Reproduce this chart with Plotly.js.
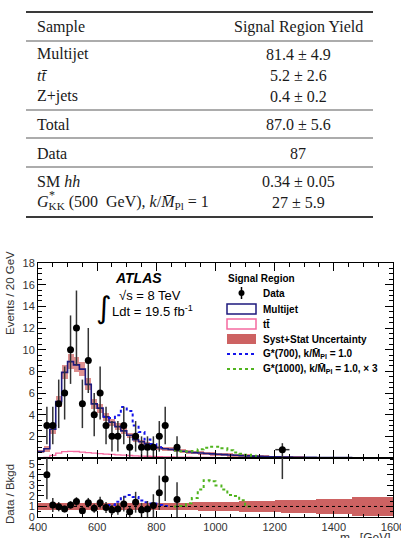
<!DOCTYPE html>
<html>
<head>
<meta charset="utf-8">
<script src="https://cdn.plot.ly/plotly-3.0.1.min.js"></script>
<style>
  html, body { margin: 0; padding: 0; background: #fff; }
  #chart { width: 401px; height: 538px; }
</style>
</head>
<body>
<div id="chart"></div>
<script>
// ---- yields table ----
const tableHeader = ['Sample', 'Signal Region Yield'];
const tableLabels = [
  'Multijet',
  '<i>tt\u0304</i>',
  'Z+jets',
  'Total',
  'Data',
  'SM <i>hh</i>',
  '<i>G</i><sub>KK</sub> (500  GeV), <i>k</i>/<i>M\u0304</i><sub>Pl</sub> = 1'
];
const tableYields = ['81.4 ± 4.9', '5.2 ± 2.6', '0.4 ± 0.2', '87.0 ± 5.6', '87', '0.34 ± 0.05', '27 ± 5.9'];

// ---- histogram binning (20 GeV bins from 400 GeV) ----
const binLow = 400;
const binWidth = 20;

// background (multijet + ttbar) per 20 GeV bin, 400..1600
const multijet = [
  0.6, 0.85, 2.65, 5.2, 7.9, 8.9, 8.6, 8.2, 6.8, 5.0,
  4.6, 3.8, 3.3, 2.9, 2.5, 2.1, 1.7, 1.5, 1.3, 1.05,
  0.95, 0.85, 0.8, 0.7, 0.62, 0.56, 0.5, 0.46, 0.42, 0.38,
  0.34, 0.31, 0.28, 0.25, 0.22, 0.2, 0.17, 0.15, 0.13, 0.11,
  0.1, 0.09, 0.08, 0.07, 0.07, 0.06, 0.06, 0.05, 0.05, 0.05,
  0.04, 0.04, 0.04, 0.03, 0.03, 0.03, 0.03, 0.02, 0.02, 0.02
];
// syst+stat uncertainty on the background, per bin
const multijetErr = [
  0.15, 0.3, 0.4, 0.5, 0.65, 0.7, 0.7, 0.65, 0.55, 0.45,
  0.42, 0.38, 0.33, 0.3, 0.27, 0.25, 0.22, 0.2, 0.18, 0.17,
  0.17, 0.17, 0.17, 0.17, 0.17, 0.17, 0.17, 0.17, 0.17, 0.17,
  0.16, 0.16, 0.15, 0.15, 0.14, 0.14, 0.13, 0.12, 0.11, 0.1,
  0.09, 0.08, 0.08, 0.07, 0.07, 0.06, 0.06, 0.05, 0.05, 0.05,
  0.04, 0.04, 0.04, 0.03, 0.03, 0.03, 0.03, 0.02, 0.02, 0.02
];
const ttbar = [
  0.0, 0.05, 0.25, 0.45, 0.58, 0.62, 0.6, 0.55, 0.5, 0.45,
  0.4, 0.36, 0.33, 0.29, 0.26, 0.23, 0.2, 0.18, 0.16, 0.14,
  0.13, 0.11, 0.1, 0.09, 0.08, 0.07, 0.06, 0.06, 0.05, 0.05,
  0.04, 0.04, 0.04, 0.04, 0.03, 0.03, 0.03, 0.03, 0.03, 0.03,
  0.02, 0.02, 0.02, 0.02, 0.02, 0.02, 0.02, 0.02, 0.02, 0.02,
  0.02, 0.02, 0.02, 0.02, 0.02, 0.02, 0.02, 0.02, 0.02, 0.02
];
// relative uncertainty band in the ratio panel, per bin
const ratioBandErr = [
  0.3, 0.3, 0.3, 0.3, 0.3, 0.3, 0.3, 0.3, 0.3, 0.3,
  0.3, 0.3, 0.3, 0.3, 0.3, 0.3, 0.3, 0.3, 0.3, 0.3,
  0.32, 0.33, 0.34, 0.35, 0.36, 0.37, 0.38, 0.4, 0.41, 0.42,
  0.43, 0.44, 0.46, 0.47, 0.49, 0.5, 0.52, 0.53, 0.55, 0.56,
  0.57, 0.59, 0.6, 0.61, 0.63, 0.64, 0.65, 0.67, 0.68, 0.69,
  0.7, 0.71, 0.72, 0.93, 0.93, 0.93, 0.93, 0.93, 0.93, 0.93
];

// ---- observed data ----
const dataMass   = [430, 450, 470, 490, 510, 530, 550, 570, 590, 610, 630, 650, 670, 690, 710, 730, 750, 770, 790, 810, 830, 870, 1226];
const dataEvents = [3, 3, 5, 6, 10, 12, 5, 9, 4, 6, 3, 2, 2, 3, 1, 2, 1, 1, 1, 2, 3, 1, 0.77];
const dataErrUp  = [1.73, 1.73, 2.24, 2.45, 3.16, 3.46, 2.24, 3.0, 2.0, 2.45, 1.73, 1.41, 1.41, 1.73, 1, 1.41, 1, 1, 1, 1.41, 1.73, 1, 0.6];
const dataErrDn  = [1.73, 1.73, 2.24, 2.45, 3.16, 3.46, 2.24, 3.0, 2.0, 2.45, 1.73, 1.41, 1.41, 1.73, 1, 1.41, 1, 1, 1, 1.41, 1.73, 1, 0.77];
const dataMassErr = [10, 10, 10, 10, 10, 10, 10, 10, 10, 10, 10, 10, 10, 10, 10, 10, 10, 10, 10, 10, 10, 10, 24];
const ratioValues = [4.0, 1.14, 0.98, 0.76, 1.14, 1.46, 0.6, 1.36, 0.83, 1.36, 0.9, 0.67, 0.76, 1.24, 0.5, 1.4, 0.67, 0.76, 1.08, 2.3, 3.6, 1.65, 9.0];
const ratioErr    = [2.31, 0.66, 0.44, 0.31, 0.36, 0.42, 0.27, 0.45, 0.42, 0.56, 0.52, 0.47, 0.54, 0.72, 0.5, 0.99, 0.67, 0.76, 1.08, 1.63, 2.08, 1.65, 5.4];

// ---- signal hypotheses (stacked on the background) ----
const g700Start = 620;
const g700 = [3.8, 3.7, 3.95, 4.7, 4.35, 3.0, 2.4, 1.7, 1.3, 1.0];
const g700Ratio = [1.0, 1.15, 1.45, 1.93, 2.08, 1.9, 1.57, 1.4, 1.27, 1.15, 1.05];
const g1000Start = 860;
const g1000 = [0.7, 0.62, 0.6, 0.65, 0.8, 0.95, 1.05, 1.05, 0.9, 0.72, 0.5, 0.4, 0.3, 0.2];
const g1000Ratio = [1.0, 1.05, 1.3, 1.8, 2.6, 3.5, 3.4, 3.0, 2.6, 2.1, 2.0, 1.6, 1.0];

// ---- helpers ----
const SANS = 'Liberation Sans, Arial, Helvetica, sans-serif';
const SERIF = 'Liberation Serif, Times New Roman, serif';
const PL = 38, PR = 393, PT = 263, PB = 517;          // plot area in page pixels
const fx = px => (px - PL) / (PR - PL);
const fy = py => (PB - py) / (PB - PT);

function steps(start, vals) {
  const x = [], y = [];
  vals.forEach((v, i) => { x.push(start + i * binWidth); y.push(v); });
  x.push(start + vals.length * binWidth);
  y.push(vals[vals.length - 1]);
  return { x, y };
}
const centres = multijet.map((_, i) => binLow + (i + 0.5) * binWidth);

const mjStep = steps(binLow, multijet);
const ttStep = steps(binLow, ttbar);
const s700 = steps(g700Start, g700);
const s700r = steps(g700Start, g700Ratio);
const s1000 = steps(g1000Start, g1000);
const s1000r = steps(g1000Start, g1000Ratio);

const traces = [
  // uncertainty band, main panel
  {
    type: 'bar', xaxis: 'x', yaxis: 'y',
    x: centres, y: multijetErr.map(e => 2 * e),
    base: multijet.map((v, i) => v - multijetErr[i]),
    width: binWidth,
    marker: { color: 'rgba(200,70,70,0.6)', line: { width: 0 } },
    hoverinfo: 'skip'
  },
  // uncertainty band, ratio panel
  {
    type: 'bar', xaxis: 'x2', yaxis: 'y2',
    x: centres, y: ratioBandErr.map(e => 2 * e),
    base: ratioBandErr.map(e => 1 - e),
    width: binWidth,
    marker: { color: 'rgb(205,98,98)', line: { width: 0 } },
    hoverinfo: 'skip'
  },
  // ttbar
  {
    type: 'scatter', mode: 'lines', xaxis: 'x', yaxis: 'y',
    x: ttStep.x, y: ttStep.y,
    line: { shape: 'hv', color: 'rgb(245,105,160)', width: 1.3 }
  },
  // multijet
  {
    type: 'scatter', mode: 'lines', xaxis: 'x', yaxis: 'y',
    x: mjStep.x, y: mjStep.y,
    line: { shape: 'hv', color: 'rgb(30,25,125)', width: 1.6 }
  },
  // G*(700)
  {
    type: 'scatter', mode: 'lines', xaxis: 'x', yaxis: 'y',
    x: s700.x, y: s700.y,
    line: { shape: 'hv', color: 'rgb(20,20,235)', width: 2, dash: 'dot' }
  },
  {
    type: 'scatter', mode: 'lines', xaxis: 'x2', yaxis: 'y2',
    x: s700r.x, y: s700r.y,
    line: { shape: 'hv', color: 'rgb(20,20,235)', width: 2, dash: 'dot' }
  },
  // G*(1000) x3
  {
    type: 'scatter', mode: 'lines', xaxis: 'x', yaxis: 'y',
    x: s1000.x, y: s1000.y,
    line: { shape: 'hv', color: 'rgb(80,180,30)', width: 2, dash: 'dot' }
  },
  {
    type: 'scatter', mode: 'lines', xaxis: 'x2', yaxis: 'y2',
    x: s1000r.x, y: s1000r.y,
    line: { shape: 'hv', color: 'rgb(80,180,30)', width: 2, dash: 'dot' }
  },
  // data
  {
    type: 'scatter', mode: 'markers', xaxis: 'x', yaxis: 'y',
    x: dataMass, y: dataEvents,
    marker: { color: '#000', size: 7 },
    error_y: { type: 'data', symmetric: false, array: dataErrUp, arrayminus: dataErrDn, color: '#333', thickness: 1.5, width: 0 },
    error_x: { type: 'data', array: dataMassErr, color: '#333', thickness: 1.5, width: 0 }
  },
  {
    type: 'scatter', mode: 'markers', xaxis: 'x2', yaxis: 'y2',
    x: dataMass, y: ratioValues,
    marker: { color: '#000', size: 7 },
    error_y: { type: 'data', array: ratioErr, color: '#333', thickness: 1.5, width: 0 },
    error_x: { type: 'data', array: dataMassErr, color: '#333', thickness: 1.5, width: 0 }
  }
];

const tickFont = { family: SANS, size: 11, color: '#333' };
const axisCommon = {
  showline: true, linecolor: '#000', linewidth: 1, mirror: 'ticks',
  ticks: 'inside', tickcolor: '#000', showgrid: false, zeroline: false,
  tickfont: tickFont
};

const annotations = [];
const shapes = [];

// table
const tableLineY = [12, 41, 110, 138, 167, 217];
tableLineY.forEach((y, i) => {
  const thick = (i === 0 || i === tableLineY.length - 1);
  shapes.push({
    type: 'line', xref: 'paper', yref: 'paper',
    x0: fx(26), x1: fx(373), y0: fy(y), y1: fy(y),
    line: { color: thick ? '#3a3a3a' : '#5a5a5a', width: thick ? 2 : 1.2 }
  });
});
const tFont = { family: SERIF, size: 16, color: '#1a1a1a' };
annotations.push({ xref: 'paper', yref: 'paper', x: fx(35), y: fy(26.5), xanchor: 'left', yanchor: 'middle', text: tableHeader[0], showarrow: false, font: tFont });
annotations.push({ xref: 'paper', yref: 'paper', x: fx(298), y: fy(26.5), xanchor: 'center', yanchor: 'middle', text: tableHeader[1], showarrow: false, font: tFont });
const rowY = [54.5, 75, 96, 124, 153, 182, 202];
tableLabels.forEach((lab, i) => {
  annotations.push({ xref: 'paper', yref: 'paper', x: fx(35), y: fy(rowY[i]), xanchor: 'left', yanchor: 'middle', text: lab, showarrow: false, font: tFont });
  annotations.push({ xref: 'paper', yref: 'paper', x: fx(298), y: fy(rowY[i]), xanchor: 'center', yanchor: 'middle', text: tableYields[i], showarrow: false, font: tFont });
});
// superscript star stacked above the KK subscript
annotations.push({ xref: 'paper', yref: 'paper', x: fx(47), y: fy(195), xanchor: 'left', yanchor: 'middle', text: '*', showarrow: false, font: { family: SERIF, size: 12, color: '#1a1a1a' } });

// axis titles
annotations.push({ xref: 'paper', yref: 'paper', x: fx(10), y: fy(293), textangle: -90, xanchor: 'center', yanchor: 'middle',
  text: 'Events / 20 GeV', showarrow: false, font: { family: SANS, size: 11.5, color: '#333' } });
annotations.push({ xref: 'paper', yref: 'paper', x: fx(10), y: fy(494), textangle: -90, xanchor: 'center', yanchor: 'middle',
  text: 'Data / Bkgd', showarrow: false, font: { family: SANS, size: 11.5, color: '#333' } });
annotations.push({ xref: 'paper', yref: 'paper', x: 1, y: fy(529), xanchor: 'right', yanchor: 'top',
  text: 'm<sub>4j</sub> [GeV]', showarrow: false, font: { family: SANS, size: 12, color: '#333' } });

// experiment label
annotations.push({ xref: 'paper', yref: 'paper', x: fx(138), y: fy(278), xanchor: 'center', yanchor: 'middle',
  text: '<b><i>ATLAS</i></b>', showarrow: false, font: { family: SANS, size: 14, color: '#000' } });
annotations.push({ xref: 'paper', yref: 'paper', x: fx(117), y: fy(295), xanchor: 'left', yanchor: 'middle',
  text: '√s = 8 TeV', showarrow: false, font: { family: SANS, size: 13, color: '#000' } });
annotations.push({ xref: 'paper', yref: 'paper', x: fx(110), y: fy(311), xanchor: 'left', yanchor: 'middle',
  text: 'Ldt = 19.5 fb<sup>-1</sup>', showarrow: false, font: { family: SANS, size: 13, color: '#000' } });
annotations.push({ xref: 'paper', yref: 'paper', x: fx(104), y: fy(307), xanchor: 'center', yanchor: 'middle',
  text: '∫', showarrow: false, font: { family: 'DejaVu Sans, sans-serif', size: 30, color: '#000' } });

// legend
const legFont = { family: SANS, size: 10, color: '#000' };
annotations.push({ xref: 'paper', yref: 'paper', x: fx(226), y: fy(278), xanchor: 'left', yanchor: 'middle',
  text: '<b>Signal Region</b>', showarrow: false, font: legFont });
const legText = [
  'Data', 'Multijet', 'tt\u0304', 'Syst+Stat Uncertainty',
  'G*(700), k/M\u0304<sub>Pl</sub> = 1.0', 'G*(1000), k/M\u0304<sub>Pl</sub> = 1.0, × 3'
];
const legY = [293, 309, 324, 339, 354, 369];
legText.forEach((t, i) => {
  annotations.push({ xref: 'paper', yref: 'paper', x: fx(261), y: fy(legY[i]), xanchor: 'left', yanchor: 'middle',
    text: '<b>' + t + '</b>', showarrow: false, font: legFont });
});
const sx0 = fx(227), sx1 = fx(256), sxc = fx(241.5);
// data symbol
shapes.push({ type: 'line', xref: 'paper', yref: 'paper', x0: sxc, x1: sxc, y0: fy(287), y1: fy(299), line: { color: '#000', width: 1.5 } });
shapes.push({ type: 'circle', xref: 'paper', yref: 'paper', x0: fx(238.5), x1: fx(244.5), y0: fy(290), y1: fy(296), fillcolor: '#000', line: { color: '#000', width: 0 } });
// boxes
shapes.push({ type: 'rect', xref: 'paper', yref: 'paper', x0: sx0, x1: sx1, y0: fy(304), y1: fy(314), line: { color: 'rgb(30,25,125)', width: 1.5 } });
shapes.push({ type: 'rect', xref: 'paper', yref: 'paper', x0: sx0, x1: sx1, y0: fy(319), y1: fy(329), line: { color: 'rgb(245,105,160)', width: 1.5 } });
shapes.push({ type: 'rect', xref: 'paper', yref: 'paper', x0: sx0, x1: sx1, y0: fy(334), y1: fy(344), fillcolor: 'rgb(205,98,98)', line: { width: 0 } });
shapes.push({ type: 'line', xref: 'paper', yref: 'paper', x0: sx0, x1: sx1, y0: fy(354), y1: fy(354), line: { color: 'rgb(20,20,235)', width: 2, dash: 'dot' } });
shapes.push({ type: 'line', xref: 'paper', yref: 'paper', x0: sx0, x1: sx1, y0: fy(369), y1: fy(369), line: { color: 'rgb(80,180,30)', width: 2, dash: 'dot' } });

// unity line in ratio panel
shapes.push({ type: 'line', xref: 'x2', yref: 'y2', x0: 400, x1: 1600, y0: 1, y1: 1, line: { color: '#000', width: 1, dash: '3px,3px' } });

const ratioSplit = (PB - 458) / (PB - PT);

const layout = {
  width: 401, height: 538,
  margin: { l: PL, r: 401 - PR, t: PT, b: 538 - PB },
  paper_bgcolor: '#fff', plot_bgcolor: '#fff',
  showlegend: false, bargap: 0,
  xaxis: Object.assign({}, axisCommon, {
    domain: [0, 1], anchor: 'y', range: [400, 1600], showticklabels: false,
    tick0: 0, dtick: 200, ticklen: 8,
    minor: { ticks: 'inside', tick0: 0, dtick: 50, ticklen: 4, tickcolor: '#000' }
  }),
  yaxis: Object.assign({}, axisCommon, {
    domain: [ratioSplit, 1], anchor: 'x', range: [0, 18],
    tickmode: 'array', tickvals: [2, 4, 6, 8, 10, 12, 14, 16, 18], ticklen: 8,
    minor: { ticks: 'inside', tickmode: 'linear', tick0: 0, dtick: 0.5, ticklen: 4, tickcolor: '#000' }
  }),
  xaxis2: Object.assign({}, axisCommon, {
    domain: [0, 1], anchor: 'y2', matches: 'x', range: [400, 1600],
    tick0: 0, dtick: 200, ticklen: 6, ticklabeloverflow: 'allow',
    minor: { ticks: 'inside', tick0: 0, dtick: 50, ticklen: 3, tickcolor: '#000' }
  }),
  yaxis2: Object.assign({}, axisCommon, {
    domain: [0, ratioSplit], anchor: 'x2', range: [0, 5.6],
    tick0: 0, dtick: 1, ticklen: 6,
    minor: { ticks: 'inside', tick0: 0, dtick: 0.5, ticklen: 3, tickcolor: '#000' }
  }),
  annotations: annotations,
  shapes: shapes
};

Plotly.newPlot('chart', traces, layout, { staticPlot: true, displayModeBar: false });
</script>
</body>
</html>
